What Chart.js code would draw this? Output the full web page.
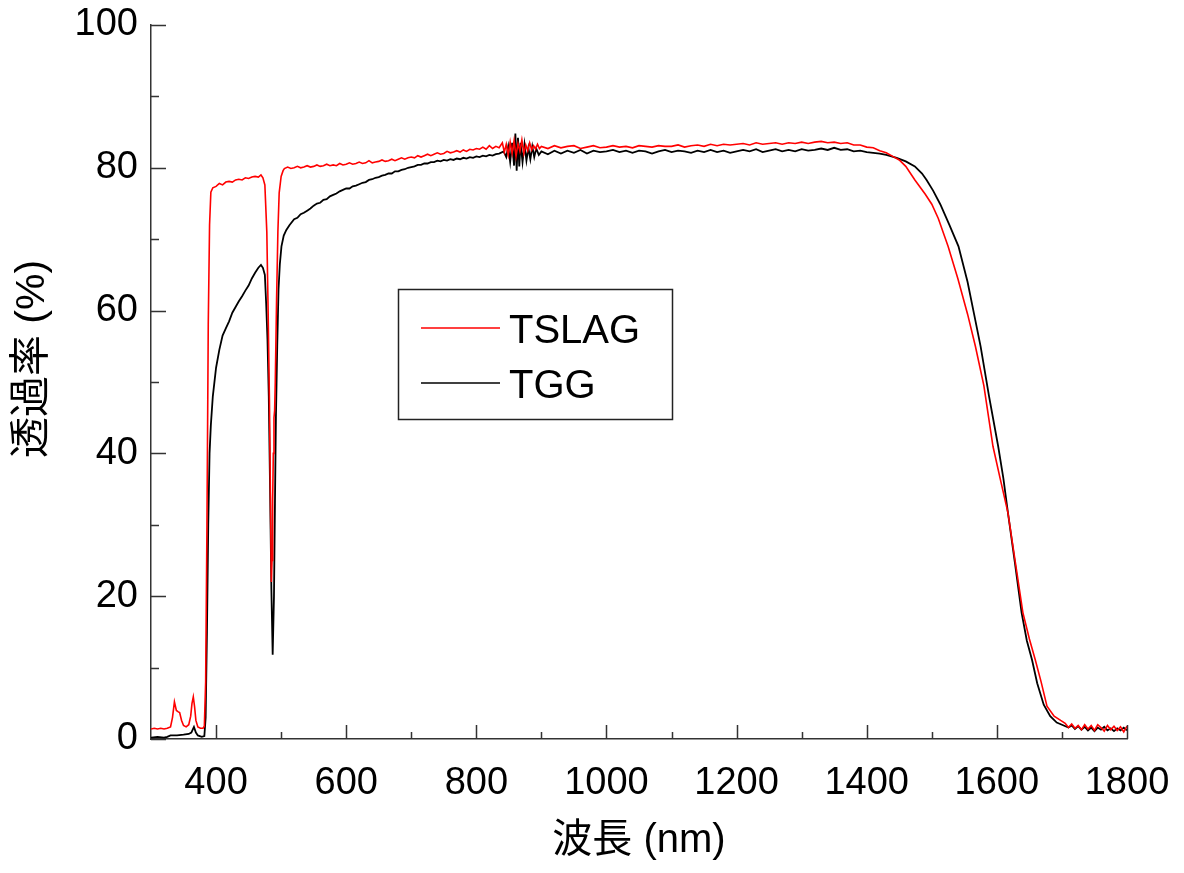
<!DOCTYPE html>
<html>
<head>
<meta charset="utf-8">
<script src="https://cdn.jsdelivr.net/npm/chart.js@4.4.1/dist/chart.umd.min.js"></script>
<style>
  html, body { margin: 0; padding: 0; background: #fff; }
  canvas { display: block; }
</style>
</head>
<body>
<canvas id="spectrum" width="1184" height="873"></canvas>
<script>
// wavelengths (nm) and transmittance (%)
const wlRed = [
  300, 305, 310, 315, 320, 325, 330, 333, 336, 339,
  342, 344, 347, 350, 354, 358, 361, 363, 365, 367,
  369, 372, 376, 380, 382, 384, 386, 388, 390, 392,
  395, 400, 405, 410, 415, 420, 425, 430, 435, 440,
  445, 450, 455, 460, 465, 469, 472, 475, 478, 480,
  482, 484, 485, 486, 487, 488, 489, 490, 491, 493,
  495, 497, 500, 503, 505, 510, 515, 520, 525, 530,
  535, 540, 545, 550, 555, 560, 565, 570, 575, 580,
  585, 590, 595, 600, 605, 610, 615, 620, 625, 630,
  635, 640, 645, 650, 655, 660, 665, 670, 675, 680,
  685, 690, 695, 700, 705, 710, 715, 720, 725, 730,
  735, 740, 745, 750, 755, 760, 765, 770, 775, 780,
  785, 790, 795, 800, 805, 810, 815, 820, 825, 830,
  835, 840, 843, 846, 849, 852, 855, 858, 861, 864,
  867, 870, 873, 876, 879, 882, 885, 888, 891, 894,
  897, 900, 910, 920, 930, 940, 950, 960, 970, 980,
  990, 1000, 1010, 1020, 1030, 1040, 1050, 1060, 1070, 1080,
  1090, 1100, 1110, 1120, 1130, 1140, 1150, 1160, 1170, 1180,
  1190, 1200, 1210, 1220, 1230, 1240, 1250, 1260, 1270, 1280,
  1290, 1300, 1310, 1320, 1330, 1340, 1350, 1360, 1370, 1380,
  1390, 1400, 1410, 1420, 1430, 1440, 1450, 1460, 1474, 1490,
  1500, 1510, 1525, 1540, 1555, 1567, 1580, 1594, 1605, 1617,
  1628, 1640, 1650, 1659, 1668, 1677, 1688, 1698, 1705, 1710,
  1715, 1720, 1725, 1730, 1735, 1740, 1745, 1750, 1755, 1760,
  1765, 1770, 1775, 1780, 1785, 1790, 1795, 1800];
const tslag = [
  1.4, 1.5, 1.4, 1.5, 1.4, 1.5, 1.7, 3.0, 5.2, 4.0,
  3.8, 3.7, 2.6, 1.9, 1.7, 2.0, 3.2, 5.0, 5.9, 4.5,
  2.6, 1.7, 1.5, 1.5, 1.8, 8, 30, 58, 72, 76.6,
  77.2, 77.4, 77.8, 77.6, 78.0, 78.1, 78.0, 78.3, 78.4, 78.3,
  78.6, 78.5, 78.7, 78.8, 78.7, 79.0, 78.6, 77.6, 71, 60,
  47.5, 30, 22, 25, 33.5, 40, 45, 46, 50, 61.5,
  71, 76.5, 78.8, 79.6, 79.9, 80.1, 79.9, 80.0, 80.2, 80.0,
  80.1, 80.3, 80.1, 80.2, 80.4, 80.2, 80.3, 80.5, 80.3, 80.4,
  80.3, 80.6, 80.4, 80.5, 80.7, 80.5, 80.6, 80.8, 80.6, 80.7,
  81.0, 80.7, 80.8, 80.9, 81.1, 80.9, 81.0, 81.2, 81.0, 81.2,
  81.4, 81.2, 81.4, 81.5, 81.4, 81.7, 81.5, 81.7, 81.9, 81.7,
  81.9, 82.1, 81.9, 82.0, 82.3, 82.1, 82.2, 82.4, 82.2, 82.5,
  82.3, 82.6, 82.5, 82.7, 82.6, 82.9, 82.6, 83.1, 82.7, 83.0,
  82.8, 83.5, 82.2, 83.3, 81.8, 83.6, 82.0, 83.8, 81.6, 83.4,
  82.3, 83.9, 82.0, 83.2, 82.4, 83.5, 82.5, 83.1, 82.6, 83.3,
  82.7, 83.0, 82.7, 83.1, 82.8, 83.0, 83.1, 82.7, 82.9, 83.1,
  82.8, 82.9, 83.1, 82.9, 83.0, 82.8, 83.1, 83.0, 82.9, 83.1,
  83.0, 83.0, 83.2, 82.9, 83.1, 83.2, 83.0, 83.3, 83.1, 83.3,
  83.2, 83.3, 83.4, 83.2, 83.5, 83.3, 83.4, 83.5, 83.3, 83.5,
  83.4, 83.6, 83.4, 83.6, 83.7, 83.5, 83.6, 83.4, 83.5, 83.2,
  83.2, 82.9, 82.8, 82.4, 82.1, 81.6, 81.1, 80.2, 78.3, 76.3,
  74.9, 72.9, 69.0, 64.5, 59.5, 55.0, 49.5, 41.0, 36.5, 31.7,
  25.0, 17.7, 14.0, 11.1, 8.0, 4.6, 3.2, 2.6, 2.2, 1.6,
  2.1, 1.5, 1.9, 1.3, 2.0, 1.4, 1.9, 1.2, 2.0, 1.6,
  1.1, 1.9, 1.3, 1.8, 1.2, 1.7, 1.0, 1.8];

const wlBlack = [
  300, 310, 320, 325, 330, 340, 350, 358, 362, 366,
  369, 372, 378, 382, 384, 386, 388, 390, 392, 395,
  400, 405, 410, 415, 420, 425, 430, 435, 440, 445,
  450, 455, 460, 465, 469, 472, 475, 477, 479, 481,
  483, 485, 487, 489, 490.5, 492, 494, 496, 498, 500.5,
  504, 508, 513, 520, 525, 530, 535, 540, 545, 550,
  555, 560, 565, 570, 575, 580, 585, 590, 595, 600,
  605, 610, 615, 620, 625, 630, 635, 640, 645, 650,
  655, 660, 665, 670, 675, 680, 685, 690, 695, 700,
  705, 710, 715, 720, 725, 730, 735, 740, 745, 750,
  755, 760, 765, 770, 775, 780, 785, 790, 795, 800,
  805, 810, 815, 820, 825, 830, 835, 842, 846, 849,
  852, 855, 858, 860, 862, 864, 866, 868, 871, 874,
  877, 880, 883, 886, 889, 892, 896, 900, 910, 920,
  930, 940, 950, 960, 970, 980, 990, 1000, 1010, 1020,
  1030, 1040, 1050, 1060, 1070, 1080, 1090, 1100, 1110, 1120,
  1130, 1140, 1150, 1160, 1170, 1180, 1190, 1200, 1210, 1220,
  1230, 1240, 1250, 1260, 1270, 1280, 1290, 1300, 1310, 1320,
  1330, 1340, 1350, 1360, 1370, 1380, 1390, 1400, 1410, 1420,
  1430, 1446, 1460, 1474, 1485, 1492, 1502, 1513, 1527, 1541,
  1555, 1565, 1575, 1588, 1602, 1610, 1617, 1628, 1638, 1646,
  1654, 1662, 1672, 1682, 1692, 1700, 1710, 1715, 1720, 1725,
  1730, 1735, 1740, 1745, 1750, 1755, 1760, 1765, 1770, 1775,
  1780, 1785, 1790, 1795, 1800];
const tgg = [
  0.2, 0.3, 0.2, 0.3, 0.5, 0.5, 0.6, 0.7, 0.9, 1.7,
  0.9, 0.5, 0.3, 0.4, 3, 15, 30, 40, 44, 48,
  52, 54.5, 56.5, 57.5, 58.5, 59.7, 60.5, 61.3, 62, 62.8,
  63.5, 64.5, 65.3, 66.0, 66.4, 66.0, 65.0, 61, 56, 48,
  35, 21, 11.8, 20, 33, 45, 55, 63, 66.5, 69,
  70.5, 71.3, 72.0, 72.8, 73.0, 73.5, 73.7, 74.0, 74.3, 74.7,
  75.0, 75.1, 75.5, 75.6, 76.0, 76.2, 76.4, 76.7, 76.9, 77.1,
  77.1, 77.4, 77.5, 77.7, 77.9, 78.0, 78.3, 78.4, 78.6, 78.7,
  78.9, 79.0, 79.2, 79.2, 79.5, 79.5, 79.7, 79.8, 80.0, 80.1,
  80.2, 80.4, 80.4, 80.6, 80.6, 80.8, 80.8, 81.0, 80.9, 81.1,
  81.0, 81.2, 81.1, 81.3, 81.2, 81.4, 81.3, 81.5, 81.4, 81.6,
  81.5, 81.7, 81.6, 81.8, 81.7, 81.9, 82.0, 82.3, 81.5, 83.0,
  80.8, 83.5, 80.3, 84.8, 79.6, 84.2, 80.2, 83.5, 80.8, 83.3,
  81.0, 82.8, 81.2, 83.0, 81.5, 82.7, 81.8, 82.3, 81.9, 82.4,
  82.0, 82.4, 82.1, 82.5, 82.0, 82.4, 82.2, 82.3, 82.5, 82.2,
  82.4, 82.1, 82.4, 82.3, 82.0, 82.3, 82.5, 82.2, 82.4, 82.3,
  82.1, 82.4, 82.2, 82.5, 82.2, 82.4, 82.1, 82.3, 82.5, 82.3,
  82.6, 82.2, 82.4, 82.6, 82.3, 82.5, 82.3, 82.6, 82.4, 82.5,
  82.7, 82.5, 82.8, 82.5, 82.6, 82.3, 82.4, 82.2, 82.1, 82.0,
  81.8, 81.4, 80.9, 80.2, 79.2, 78.3, 76.8, 74.9, 72.0, 69.0,
  64.0, 59.5, 55.0, 48.0, 41.0, 36.5, 31.7, 24.5, 17.7, 13.8,
  11.1, 7.8, 4.8, 3.2, 2.3, 2.0, 1.6, 1.9, 1.4, 1.8,
  1.3, 1.7, 1.2, 1.6, 1.1, 1.6, 1.3, 1.7, 1.2, 1.5,
  1.1, 1.5, 1.2, 1.6, 1.2];

const xTicks = [400, 600, 800, 1000, 1200, 1400, 1600, 1800];
const xMinor = [500, 700, 900, 1100, 1300, 1500, 1700];
const yTicks = [0, 20, 40, 60, 80, 100];
const yMinor = [10, 30, 50, 70, 90];
const xTitle = '波長 (nm)';
const yTitle = '透過率 (%)';

const FONT = '"Liberation Sans", Arial, "Noto Sans CJK JP", sans-serif';
const AXIS = '#333';

const toPoints = (xs, ys) => xs.map((x, i) => ({ x: x, y: ys[i] }));

const noScalePadding = s => {
    s.paddingLeft = 0;
    s.paddingRight = 0;
    s.paddingTop = 0;
    s.paddingBottom = 0;
};

// tick marks point into the plot, so draw them from the scales ourselves
const insideTicks = {
    id: 'insideTicks',
    afterDraw(chart) {
        const { ctx, chartArea: a, scales } = chart;
        const x = scales.x, y = scales.y;
        ctx.save();
        ctx.strokeStyle = AXIS;
        ctx.lineWidth = 1.5;
        ctx.beginPath();
        xTicks.forEach(v => { const p = Math.round(x.getPixelForValue(v)) + 0.5; ctx.moveTo(p, a.bottom); ctx.lineTo(p, a.bottom - 14); });
        xMinor.forEach(v => { const p = Math.round(x.getPixelForValue(v)) + 0.5; ctx.moveTo(p, a.bottom); ctx.lineTo(p, a.bottom - 7); });
        yTicks.forEach(v => { const p = Math.round(y.getPixelForValue(v)) + 0.5; ctx.moveTo(a.left, p); ctx.lineTo(a.left + 15, p); });
        yMinor.forEach(v => { const p = Math.round(y.getPixelForValue(v)) + 0.5; ctx.moveTo(a.left, p); ctx.lineTo(a.left + 8, p); });
        ctx.stroke();

        // y title sits a little above the axis middle in the original
        ctx.translate(33, 359);
        ctx.rotate(-Math.PI / 2);
        ctx.font = '41px ' + FONT;
        ctx.fillStyle = '#000';
        ctx.textAlign = 'center';
        ctx.textBaseline = 'middle';
        ctx.fillText(yTitle, 0, 0);
        ctx.restore();
    }
};

// boxed legend sitting inside the plot
const boxLegend = {
    id: 'boxLegend',
    afterDraw(chart) {
        const ctx = chart.ctx;
        ctx.save();
        ctx.strokeStyle = '#222';
        ctx.lineWidth = 1.5;
        ctx.strokeRect(398.5, 289.5, 274, 130);
        ctx.font = '40px ' + FONT;
        ctx.textBaseline = 'middle';
        ctx.fillStyle = '#000';
        chart.data.datasets.forEach((ds, i) => {
            const yy = 328 + i * 55;
            ctx.beginPath();
            ctx.strokeStyle = ds.borderColor;
            ctx.lineWidth = 1.5;
            ctx.moveTo(421, yy);
            ctx.lineTo(500, yy);
            ctx.stroke();
            ctx.fillText(ds.label, 509, yy + 4);
        });
        ctx.restore();
    }
};

const ctx = document.getElementById('spectrum').getContext('2d');
new Chart(ctx, {
    type: 'line',
    data: {
        datasets: [
            { label: 'TSLAG', data: toPoints(wlRed, tslag), borderColor: '#ff0000', borderWidth: 1.6, pointRadius: 0, tension: 0, fill: false },
            { label: 'TGG', data: toPoints(wlBlack, tgg), borderColor: '#000000', borderWidth: 1.8, pointRadius: 0, tension: 0, fill: false }
        ]
    },
    options: {
        responsive: false,
        animation: false,
        devicePixelRatio: 1,
        parsing: false,
        layout: { padding: { top: 25, right: 57, left: 0, bottom: 0 } },
        plugins: { legend: { display: false }, tooltip: { enabled: false } },
        scales: {
            x: {
                type: 'linear',
                min: 300,
                max: 1800,
                afterBuildTicks: s => { s.ticks = xTicks.map(v => ({ value: v })); },
                afterFit: s => { s.height = 134; noScalePadding(s); },
                grid: { display: false, drawTicks: false },
                border: { display: true, color: AXIS, width: 1.5 },
                ticks: { color: '#000', font: { family: FONT, size: 38 }, padding: 22, maxRotation: 0, autoSkip: false, callback: v => String(v) },
                title: { display: true, text: xTitle, color: '#000', font: { family: FONT, size: 40 }, padding: { top: 0, bottom: 8 } }
            },
            y: {
                min: 0,
                max: 100,
                afterBuildTicks: s => { s.ticks = yTicks.map(v => ({ value: v })); },
                afterFit: s => { s.width = 151; noScalePadding(s); },
                grid: { display: false, drawTicks: false },
                border: { display: true, color: AXIS, width: 1.5 },
                ticks: { color: '#000', font: { family: FONT, size: 38 }, padding: 13, callback: v => String(v) },
                title: { display: false }
            }
        }
    },
    plugins: [insideTicks, boxLegend]
});
</script>
</body>
</html>
